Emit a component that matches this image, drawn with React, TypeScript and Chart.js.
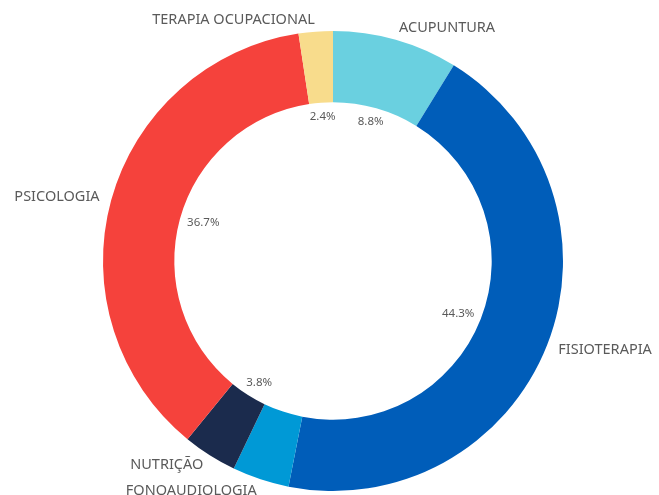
import React, { useEffect, useRef } from "react";
import { Chart, registerables } from "chart.js";

Chart.register(...registerables);

const categories = ["ACUPUNTURA", "FISIOTERAPIA", "FONOAUDIOLOGIA", "NUTRIÇÃO", "PSICOLOGIA", "TERAPIA OCUPACIONAL"];
const values = [8.8, 44.3, 4.0, 3.8, 36.7, 2.4];
const colors = ["#6ad0e0", "#005db9", "#0099d6", "#1b2b4d", "#f5423c", "#f8dc8c"];
const hiddenPctLabels = ["FONOAUDIOLOGIA"];

const labelPlugin = {
  id: "sliceLabels",
  afterDatasetsDraw(chart: any) {
    const ctx = chart.ctx;
    const meta = chart.getDatasetMeta(0);
    ctx.save();
    meta.data.forEach((arc: any, i: number) => {
      const { x: cx, y: cy, startAngle, endAngle, innerRadius, outerRadius } = arc.getProps(
        ["x", "y", "startAngle", "endAngle", "innerRadius", "outerRadius"],
        true
      );
      const mid = (startAngle + endAngle) / 2;
      const c = Math.cos(mid);
      const s = Math.sin(mid);
      // category label outside
      ctx.font = "14.5px 'Noto Sans', sans-serif";
      ctx.fillStyle = "#5a5a5a";
      ctx.textBaseline = "middle";
      const ro = outerRadius + 12;
      const lx = cx + ro * c;
      const ly = cy + ro * s;
      ctx.textAlign = c >= 0 ? "left" : "right";
      ctx.fillText(categories[i], lx, ly);
      // percent label inside
      if (!hiddenPctLabels.includes(categories[i])) {
        ctx.font = "11.5px 'Noto Sans', sans-serif";
        const txt = values[i].toFixed(1) + "%";
        const w = ctx.measureText(txt).width;
        const h = 12;
        const ri = innerRadius - 8;
        const px = cx + ri * c - (w / 2) * c;
        const py = cy + ri * s - (h / 2) * s;
        ctx.textAlign = "center";
        ctx.fillText(txt, px, py);
      }
    });
    ctx.restore();
  },
};

export default function App() {
  const ref = useRef<HTMLCanvasElement>(null);
  useEffect(() => {
    document.body.style.margin = "0";
    const chart = new Chart(ref.current!, {
      type: "doughnut",
      data: {
        labels: categories,
        datasets: [
          {
            data: values,
            backgroundColor: colors,
            borderWidth: 0,
          },
        ],
      },
      options: {
        animation: false,
        responsive: false,
        cutout: "69%",
        layout: { padding: { left: 103, right: 96, top: 31, bottom: 4 } },
        plugins: {
          legend: { display: false },
          tooltip: { enabled: false },
        },
      },
      plugins: [labelPlugin],
    });
    return () => chart.destroy();
  }, []);
  return (
    <div style={{ width: 659, height: 495 }}>
      <canvas ref={ref} width={659} height={495} />
    </div>
  );
}
